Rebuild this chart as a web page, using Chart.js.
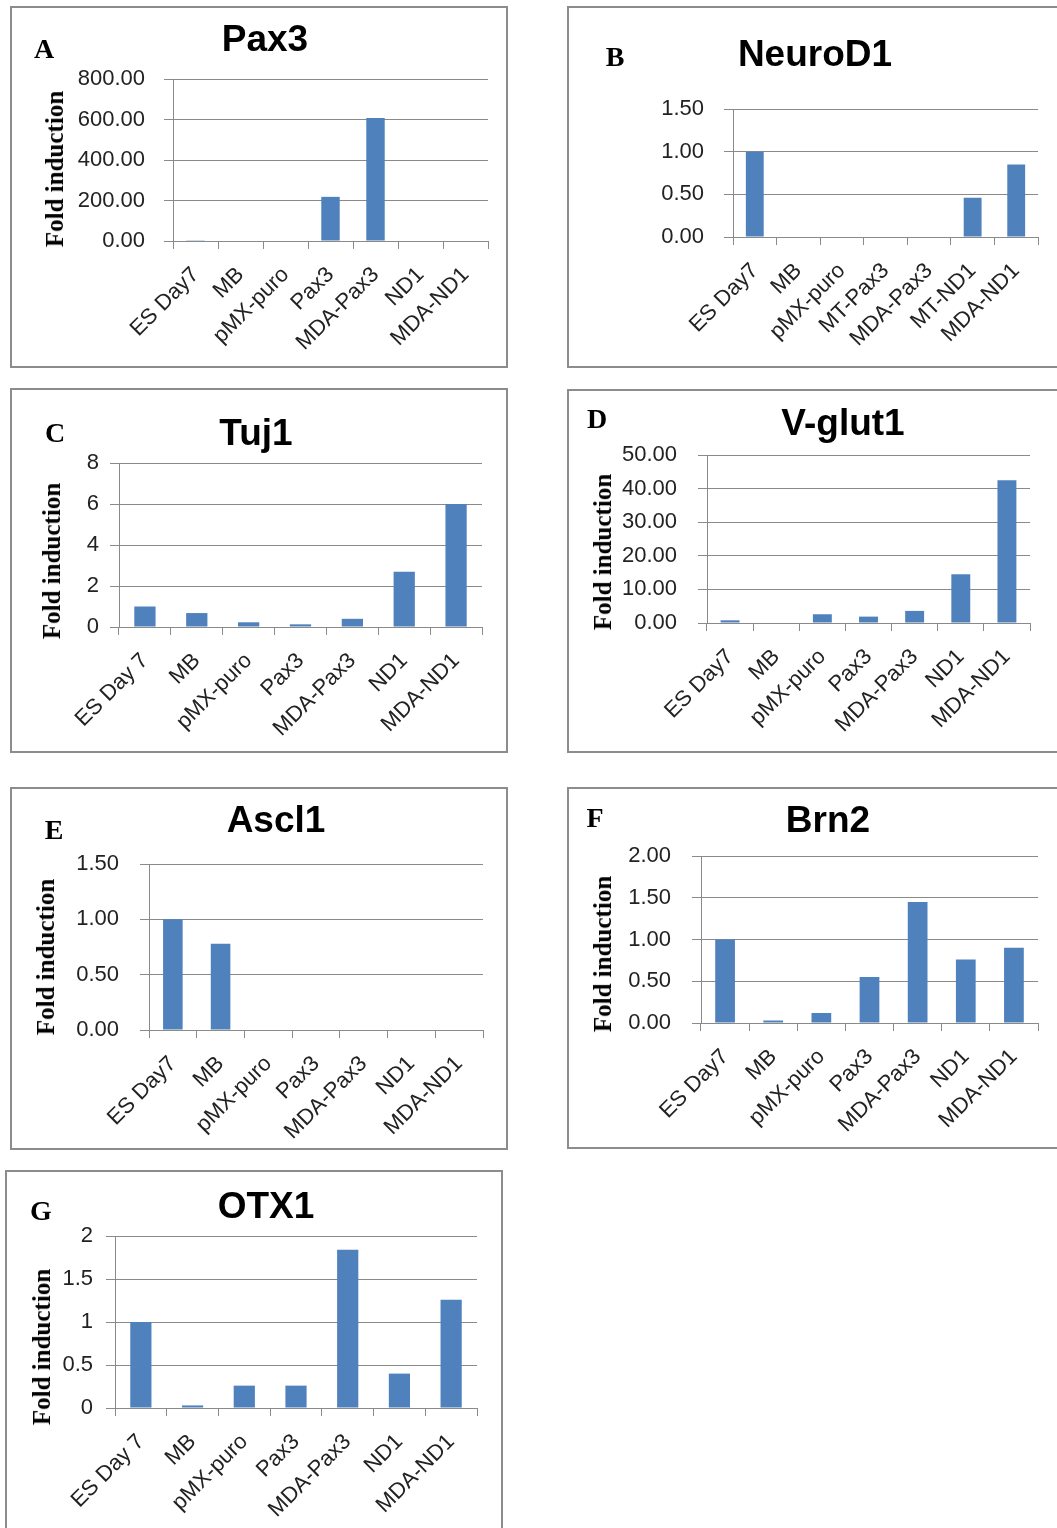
<!DOCTYPE html>
<html>
<head>
<meta charset="utf-8">
<script src="https://cdn.jsdelivr.net/npm/chart.js@4.4.1/dist/chart.umd.min.js"></script>
<style>
  body { margin: 0; background: #fff; width: 1057px; height: 1528px; position: relative; overflow: hidden; }
  .box { position: absolute; border: 2px solid #8c8c8c; box-sizing: border-box; }
  .letter { position: absolute; font-family: "Liberation Serif", "Times New Roman", serif; font-weight: bold; font-size: 28px; transform: translate(-50%, -50%); }
  .title { position: absolute; font-family: "Liberation Sans", Arial, sans-serif; font-weight: bold; font-size: 37px; transform: translate(-50%, -50%); white-space: nowrap; }
  .ytitle { position: absolute; font-family: "Liberation Serif", "Times New Roman", serif; font-weight: bold; font-size: 25px; transform: translate(-50%, -50%) rotate(-90deg); white-space: nowrap; }
  canvas { position: absolute; }
</style>
</head>
<body>
<script>
// --- data ---
const cellLines = ['ES Day7', 'MB', 'pMX-puro', 'Pax3', 'MDA-Pax3', 'ND1', 'MDA-ND1'];
const cellLinesSpaced = ['ES Day 7', 'MB', 'pMX-puro', 'Pax3', 'MDA-Pax3', 'ND1', 'MDA-ND1'];
const cellLinesMT = ['ES Day7', 'MB', 'pMX-puro', 'MT-Pax3', 'MDA-Pax3', 'MT-ND1', 'MDA-ND1'];

const pax3Values = [1, 0, 0, 218, 608, 0, 0];
const neurod1Values = [1.0, 0, 0, 0, 0, 0.46, 0.85];
const tuj1Values = [1.0, 0.68, 0.23, 0.13, 0.40, 2.70, 6.0];
const vglut1Values = [0.8, 0, 2.6, 1.9, 3.6, 14.5, 42.5];
const ascl1Values = [1.0, 0.78, 0, 0, 0, 0, 0];
const brn2Values = [1.0, 0.03, 0.12, 0.55, 1.45, 0.76, 0.90];
const otx1Values = [1.0, 0.03, 0.26, 0.26, 1.84, 0.40, 1.26];

const pax3Ticks = [0, 200, 400, 600, 800];
const neurod1Ticks = [0, 0.5, 1, 1.5];
const tuj1Ticks = [0, 2, 4, 6, 8];
const vglut1Ticks = [0, 10, 20, 30, 40, 50];
const ascl1Ticks = [0, 0.5, 1, 1.5];
const brn2Ticks = [0, 0.5, 1, 1.5, 2];
const otx1Ticks = [0, 0.5, 1, 1.5, 2];

const BAR_COLOR = '#4f81bd';
const GRID_COLOR = '#8a8a8a';
const Y_W = 105;  // fixed y-axis box width
const X_H = 118;  // fixed x-axis box height (labels are clipped to it)

const panels = [
    { letter: 'A', title: 'Pax3', labels: cellLines, values: pax3Values, ticks: pax3Ticks, dec: 2,
      box: [10, 6, 508, 368], plot: [173, 79, 488, 241], tickPad: 19, yTitle: [55, 169],
      letterPos: [44, 49], titlePos: [265, 39] },
    { letter: 'B', title: 'NeuroD1', labels: cellLinesMT, values: neurod1Values, ticks: neurod1Ticks, dec: 2,
      box: [567, 6, 1075, 368], plot: [733, 109, 1038, 237], tickPad: 20, yTitle: null,
      letterPos: [615, 57], titlePos: [815, 54] },
    { letter: 'C', title: 'Tuj1', labels: cellLinesSpaced, values: tuj1Values, ticks: tuj1Ticks, dec: 0,
      box: [10, 388, 508, 753], plot: [119, 463, 482, 627], tickPad: 11, yTitle: [52, 561],
      letterPos: [55, 433], titlePos: [256, 433] },
    { letter: 'D', title: 'V-glut1', labels: cellLines, values: vglut1Values, ticks: vglut1Ticks, dec: 2,
      box: [567, 389, 1075, 753], plot: [707, 455, 1030, 623], tickPad: 21, yTitle: [603, 552],
      letterPos: [597, 419], titlePos: [843, 423] },
    { letter: 'E', title: 'Ascl1', labels: cellLines, values: ascl1Values, ticks: ascl1Ticks, dec: 2,
      box: [10, 787, 508, 1150], plot: [149, 864, 483, 1030], tickPad: 21, yTitle: [46, 957],
      letterPos: [54, 830], titlePos: [276, 820] },
    { letter: 'F', title: 'Brn2', labels: cellLines, values: brn2Values, ticks: brn2Ticks, dec: 2,
      box: [567, 787, 1075, 1149], plot: [701, 856, 1038, 1023], tickPad: 21, yTitle: [603, 954],
      letterPos: [595, 818], titlePos: [828, 820] },
    { letter: 'G', title: 'OTX1', labels: cellLinesSpaced, values: otx1Values, ticks: otx1Ticks, dec: -1,
      box: [5, 1170, 503, 1545], plot: [115, 1236, 477, 1408], tickPad: 13, yTitle: [42, 1347],
      letterPos: [41, 1211], titlePos: [266, 1206] }
];

function addText(cls, text, x, y) {
    const el = document.createElement('div');
    el.className = cls;
    el.textContent = text;
    el.style.left = x + 'px';
    el.style.top = y + 'px';
    document.body.appendChild(el);
}

function makePanel(p) {
    const [bl, bt, br, bb] = p.box;
    const [pl, pt, pr, pb] = p.plot;
    const W = br - bl, H = bb - bt;

    const box = document.createElement('div');
    box.className = 'box';
    box.style.left = bl + 'px';
    box.style.top = bt + 'px';
    box.style.width = W + 'px';
    box.style.height = H + 'px';
    document.body.appendChild(box);

    const canvas = document.createElement('canvas');
    canvas.width = W;
    canvas.height = H;
    canvas.style.left = bl + 'px';
    canvas.style.top = bt + 'px';
    canvas.style.width = W + 'px';
    canvas.style.height = H + 'px';
    document.body.appendChild(canvas);

    addText('letter', p.letter, p.letterPos[0], p.letterPos[1]);
    addText('title', p.title, p.titlePos[0], p.titlePos[1]);
    if (p.yTitle) addText('ytitle', 'Fold induction', p.yTitle[0], p.yTitle[1]);

    const fontFamily = '"Liberation Sans", Arial, sans-serif';

    new Chart(canvas, {
        type: 'bar',
        data: {
            labels: p.labels,
            datasets: [{
                data: p.values,
                backgroundColor: BAR_COLOR,
                borderWidth: 0,
                barPercentage: 0.41,
                categoryPercentage: 1.0
            }]
        },
        options: {
            responsive: false,
            devicePixelRatio: 1,
            animation: false,
            layout: {
                padding: { left: pl - bl - Y_W, top: pt - bt, right: br - pr, bottom: bb - pb - X_H }
            },
            plugins: { legend: { display: false }, tooltip: { enabled: false }, title: { display: false } },
            scales: {
                x: {
                    grid: { display: true, drawOnChartArea: false, drawTicks: true, tickLength: 8, color: GRID_COLOR, offset: true },
                    border: { display: true, color: GRID_COLOR },
                    ticks: { color: '#222', font: { family: fontFamily, size: 22 }, minRotation: 45, maxRotation: 45, autoSkip: false, padding: 13 },
                    afterFit: s => { s.height = X_H; }
                },
                y: {
                    min: 0,
                    max: p.ticks[p.ticks.length - 1],
                    afterBuildTicks: s => { s.ticks = p.ticks.map(v => ({ value: v })); },
                    grid: { color: GRID_COLOR, tickLength: 9, drawTicks: true },
                    border: { display: true, color: GRID_COLOR },
                    ticks: {
                        color: '#222',
                        font: { family: fontFamily, size: 22 },
                        padding: p.tickPad,
                        callback: v => p.dec >= 0 ? Number(v).toFixed(p.dec) : String(v)
                    },
                    afterFit: s => { s.width = Y_W; }
                }
            }
        }
    });
}

panels.forEach(makePanel);
</script>
</body>
</html>
